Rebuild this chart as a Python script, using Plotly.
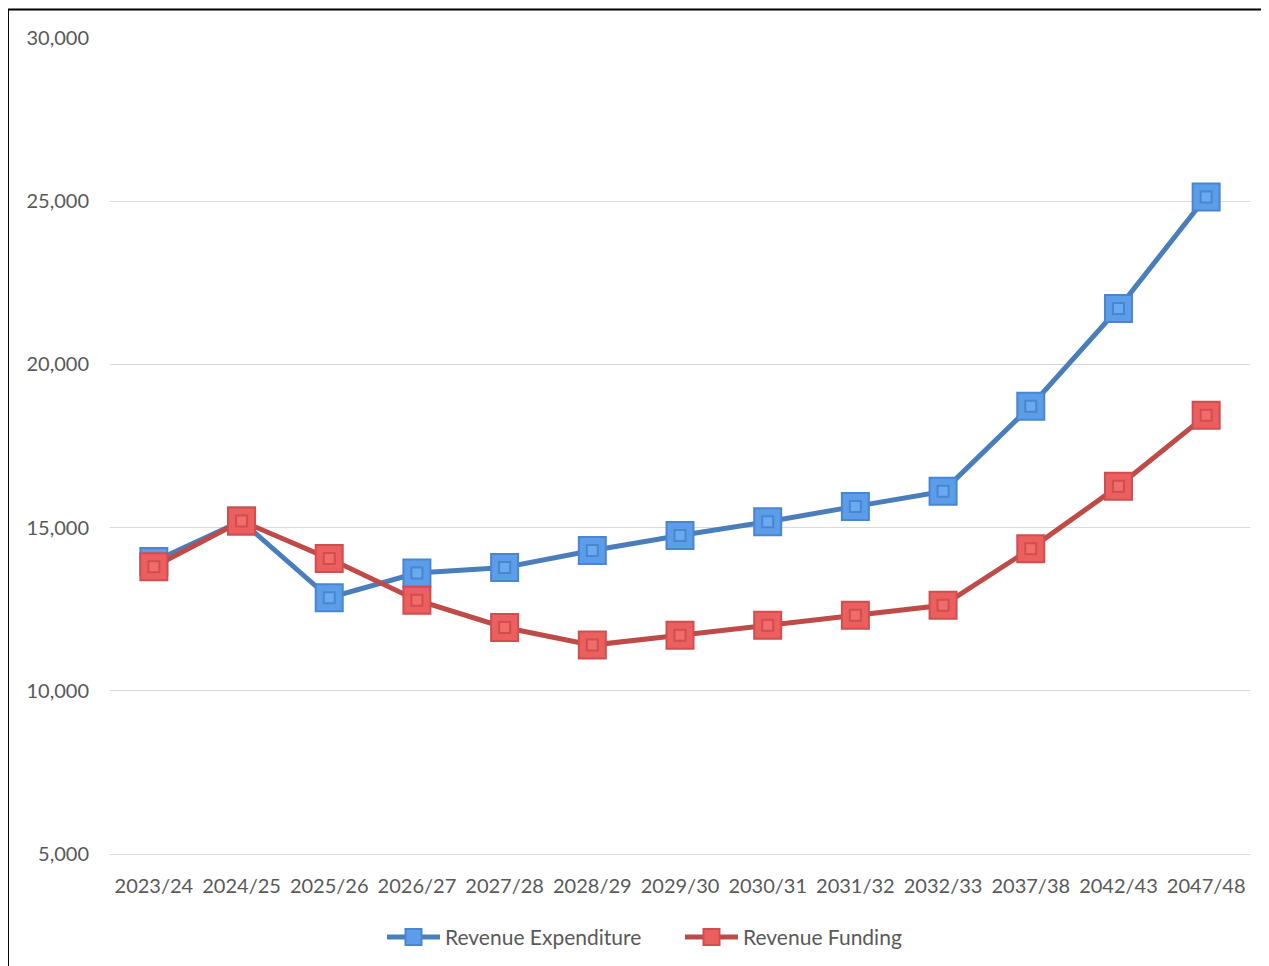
import plotly.graph_objects as go

categories = ["2023/24", "2024/25", "2025/26", "2026/27", "2027/28", "2028/29", "2029/30",
              "2030/31", "2031/32", "2032/33", "2037/38", "2042/43", "2047/48"]
revenue_expenditure = [13960, 15200, 12850, 13610, 13780, 14300, 14760, 15180, 15650, 16110, 18720, 21715, 25130]
revenue_funding = [13800, 15200, 14050, 12775, 11940, 11400, 11700, 12010, 12315, 12620, 14355, 16270, 18440]
y_ticks = [5000, 10000, 15000, 20000, 25000, 30000]

FONT = "Lato, Open Sans, sans-serif"
GREY = "#595959"

series = [
    ("Revenue Expenditure", revenue_expenditure, "#4A7EBB", "#5B9DE8", "#4A86D0", "#6AAAF0"),
    ("Revenue Funding", revenue_funding, "#BE4B48", "#EC5F5F", "#D14E4E", "#F26C6C"),
]

fig = go.Figure()
for name, vals, line_c, fill_c, edge_c, inner_c in series:
    fig.add_trace(go.Scatter(
        x=categories, y=vals, name=name, mode="lines+markers",
        line=dict(color=line_c, width=5),
        marker=dict(symbol="square", size=27, color=fill_c, line=dict(color=edge_c, width=2)),
    ))
    fig.add_trace(go.Scatter(
        x=categories, y=vals, mode="markers", showlegend=False, hoverinfo="skip",
        marker=dict(symbol="square", size=11, color=inner_c, line=dict(color=edge_c, width=2)),
    ))

fig.update_layout(
    width=1261, height=958,
    margin=dict(l=102, r=19, t=30, b=112, autoexpand=False),
    paper_bgcolor="white", plot_bgcolor="white",
    font=dict(family=FONT, color=GREY, size=20),
    showlegend=True,
    legend=dict(orientation="h", x=0.5, xanchor="center", y=-0.102, yanchor="middle",
                font=dict(size=21, color=GREY), tracegroupgap=0, itemwidth=53,
                entrywidth=230, entrywidthmode="pixels"),
    xaxis=dict(type="category", categoryarray=categories, range=[-0.5, len(categories) - 0.5],
               showgrid=False, showline=True, linecolor="#D9D9D9", linewidth=1.3,
               ticks="", zeroline=False, ticklabelstandoff=14,
               tickfont=dict(size=20, color=GREY)),
    yaxis=dict(range=[5000, 30000], tickvals=y_ticks, tickformat=",", showgrid=True,
               gridcolor="#D9D9D9", gridwidth=1.3, zeroline=False, showline=False, ticks="",
               ticklabelstandoff=20, tickfont=dict(size=20, color=GREY)),
    shapes=[dict(type="rect", xref="paper", yref="paper", x0=-0.0895, x1=1.2, y0=-0.3, y1=1.035,
                 line=dict(color="black", width=2), fillcolor="rgba(0,0,0,0)", layer="below")],
)

fig.write_html("out.html")
